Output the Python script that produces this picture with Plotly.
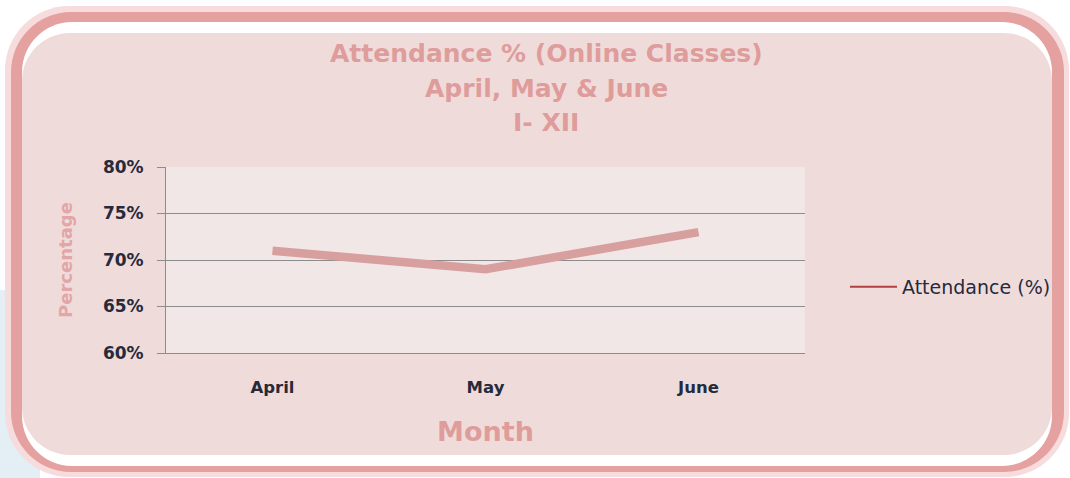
import plotly.graph_objects as go

months = ["April", "May", "June"]
attendance = [0.71, 0.69, 0.73]
y_ticks = [0.60, 0.65, 0.70, 0.75, 0.80]
y_tick_labels = ["60%", "65%", "70%", "75%", "80%"]
title_lines = ["Attendance % (Online Classes)", "April, May & June", "I- XII"]

W, H = 1070, 478
L, R, T, B = 166, 805, 167, 353


def px(x):
    return (x - L) / (R - L)


def py(y):
    return (B - y) / (B - T)


def rrect(x0, y0, x1, y1, r):
    k = 0.45 * r
    return (
        f"M {px(x0 + r)},{py(y0)} L {px(x1 - r)},{py(y0)} "
        f"C {px(x1 - k)},{py(y0)} {px(x1)},{py(y0 + k)} {px(x1)},{py(y0 + r)} "
        f"L {px(x1)},{py(y1 - r)} "
        f"C {px(x1)},{py(y1 - k)} {px(x1 - k)},{py(y1)} {px(x1 - r)},{py(y1)} "
        f"L {px(x0 + r)},{py(y1)} "
        f"C {px(x0 + k)},{py(y1)} {px(x0)},{py(y1 - k)} {px(x0)},{py(y1 - r)} "
        f"L {px(x0)},{py(y0 + r)} "
        f"C {px(x0)},{py(y0 + k)} {px(x0 + k)},{py(y0)} {px(x0 + r)},{py(y0)} Z"
    )


FONT = "DejaVu Sans"
PINK_TEXT = "#de9d9b"
DARK_TEXT = "#262a3a"

fig = go.Figure()
fig.add_trace(go.Scatter(
    x=months, y=attendance, mode="lines",
    line=dict(color="#d89f9f", width=8.5),
    showlegend=False, hoverinfo="skip",
))
fig.add_trace(go.Scatter(
    x=[None], y=[None], mode="lines", name="Attendance (%)",
    line=dict(color="#b5413f", width=2),
))

shapes = [
    dict(type="rect", xref="paper", yref="paper", x0=px(0), x1=px(40), y0=py(478), y1=py(290),
         fillcolor="#e4eef5", line=dict(width=0), layer="below"),
    dict(type="path", xref="paper", yref="paper", path=rrect(5, 6, 1069, 477, 64),
         fillcolor="#f6dcdc", line=dict(width=0), layer="below"),
    dict(type="path", xref="paper", yref="paper", path=rrect(11, 12, 1064, 472, 60),
         fillcolor="#e5a0a0", line=dict(width=0), layer="below"),
    dict(type="path", xref="paper", yref="paper", path=rrect(22, 22, 1052, 466, 50),
         fillcolor="#ffffff", line=dict(width=0), layer="below"),
    dict(type="path", xref="paper", yref="paper", path=rrect(22, 33, 1052, 455, 48),
         fillcolor="#f0dbdb", line=dict(width=0), layer="below"),
    dict(type="rect", xref="paper", yref="paper", x0=0, x1=1, y0=0, y1=1,
         fillcolor="#f2e7e7", line=dict(width=0), layer="below"),
]

title_y = [53, 89, 122]
annotations = [
    dict(text=f"<b>{t}</b>", xref="paper", yref="paper", x=px(546), y=py(yy),
         xanchor="center", yanchor="middle", showarrow=False,
         font=dict(family=FONT, size=25, color=PINK_TEXT))
    for t, yy in zip(title_lines, title_y)
]

fig.update_layout(
    width=W, height=H,
    margin=dict(l=L, r=W - R, t=T, b=H - B),
    paper_bgcolor="#ffffff",
    plot_bgcolor="rgba(0,0,0,0)",
    shapes=shapes,
    annotations=annotations,
    xaxis=dict(
        range=[-0.5, 2.5], showgrid=False, showline=True, linecolor="#8c8c8c", linewidth=1,
        ticks="", tickfont=dict(family=FONT, size=16.5, color=DARK_TEXT, weight="bold"),
        ticklabelstandoff=19,
        title=dict(text="<b>Month</b>", font=dict(family=FONT, size=27, color=PINK_TEXT),
                   standoff=26),
        fixedrange=True,
    ),
    yaxis=dict(
        range=[0.60, 0.80], tickvals=y_ticks, ticktext=y_tick_labels,
        showgrid=True, gridcolor="#8c8c8c", gridwidth=1,
        showline=True, linecolor="#8c8c8c", linewidth=1,
        ticks="outside", ticklen=8, tickcolor="#8c8c8c",
        tickfont=dict(family=FONT, size=17, color=DARK_TEXT, weight="bold"),
        ticklabelstandoff=10,
        zeroline=False,
        title=dict(text="<b>Percentage</b>", font=dict(family=FONT, size=18, color="#e2a6a6"),
                   standoff=25),
        fixedrange=True,
    ),
    legend=dict(
        x=px(845), xanchor="left", y=py(287), yanchor="middle",
        bgcolor="rgba(0,0,0,0)", itemwidth=47,
        font=dict(family=FONT, size=19, color=DARK_TEXT),
    ),
)

fig.write_html("out.html")
